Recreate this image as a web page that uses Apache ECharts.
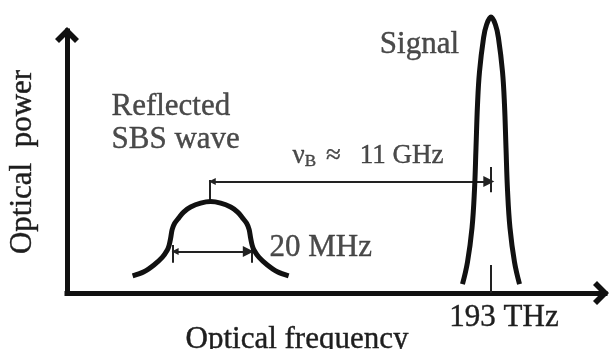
<!DOCTYPE html>
<html>
<head>
<meta charset="utf-8">
<script src="https://cdn.jsdelivr.net/npm/echarts@6/dist/echarts.min.js"></script>
<style>
html,body{margin:0;padding:0;background:#fff;}
#chart{width:611px;height:349px;}
</style>
</head>
<body>
<div id="chart"></div>
<script>
// ---- data (arbitrary schematic units: frequency 0..100, power 0..100) ----
const sbsX = [12.20, 14.30, 16.16, 17.70, 18.65, 18.99, 19.27, 19.54, 20.01, 20.75, 21.68, 22.98, 24.84, 26.70, 28.56, 30.42, 31.72, 32.65, 33.39, 33.86, 34.13, 34.41, 34.75, 35.70, 37.24, 39.10, 41.20];
const sbsY = [6.5, 8.1, 10.7, 13.6, 16.4, 18.3, 21.0, 24.2, 26.6, 28.6, 30.9, 32.8, 34.3, 34.9, 34.3, 32.8, 30.9, 28.6, 26.6, 24.2, 21.0, 18.3, 16.4, 13.6, 10.7, 8.1, 6.5];
const signalX = [73.51, 74.44, 75.28, 75.74, 76.02, 76.30, 76.67, 77.42, 77.97, 78.81, 79.65, 80.20, 80.95, 81.32, 81.60, 81.88, 82.34, 83.18, 84.11];
const signalY = [3.4, 11.8, 24.8, 39.3, 55.3, 71.8, 84.4, 97.3, 102.3, 105.3, 102.3, 97.3, 84.4, 71.8, 55.3, 39.3, 24.8, 11.8, 3.4];
const sbsPeakX = 26.6;
const signalCenter = 78.81;
const shiftArrowX = [27.0, 78.4];
const shiftArrowY = 42.6;
const sbsPeakTickY = [34.9, 43.1];
const signalMarkY = [38.5, 48.1];
const widthArrowX = [20.1, 33.7];
const widthArrowY = 15.8;
const widthTickX = [19.65, 34.33];
const widthTickY = [11.5, 18.3];
const tickLabels = ['193 THz'];
const axisNames = ['Optical frequency', 'Optical  power'];
const annotationText = ['{a|Reflected}\n{a|SBS wave}', '{a|Signal}', '{nu|ν}{sub|B}{gap|≈}{nu|11 GHz}', '{a|20 MHz}'];
const annotationX = [8.36, 65.61, 42.0, 37.73];
const annotationY = [77.3, 94.7, 52.3, 17.0];

// ---- styles ----
const FONT = 'Liberation Serif';
const INK = '#111';
const TXT = '#1e1e1e';
const chevron = 'path://M12,0 L24,12 L20,16 L12,8 L4,16 L0,12 Z';
const heavy = {textBorderColor: TXT, textBorderWidth: 0.4};

const zip = (xs, ys) => xs.map((x, i) => [x, ys[i]]);

const richStyles = {
  a: Object.assign({fontFamily: FONT, fontSize: 31, lineHeight: 33, color: TXT}, heavy),
  nu: Object.assign({fontFamily: FONT, fontSize: 27, lineHeight: 30, color: TXT}, heavy),
  gap: Object.assign({fontFamily: FONT, fontSize: 27, lineHeight: 30, color: TXT, padding: [0, 19, 0, 10]}, heavy),
  sub: Object.assign({fontFamily: FONT, fontSize: 17, lineHeight: 12, verticalAlign: 'bottom', color: TXT}, heavy)
};
const annotationAlign = [
  {align: 'left', verticalAlign: 'top'},
  {align: 'center', verticalAlign: 'middle'},
  {align: 'left', verticalAlign: 'middle'},
  {align: 'left', verticalAlign: 'middle'}
];

const chart = echarts.init(document.getElementById('chart'), null, {renderer: 'canvas'});
chart.setOption({
  animation: false,
  backgroundColor: '#fff',
  grid: {left: 67, right: 6, top: 31, bottom: 56, containLabel: false, outerBoundsMode: 'none'},
  xAxis: {
    type: 'value', min: 0, max: 100,
    splitLine: {show: false},
    axisLine: {show: true, onZero: true, symbol: ['none', chevron], symbolSize: [24, 16], symbolOffset: [0, -4],
      lineStyle: {color: INK, width: 5, cap: 'square'}},
    axisTick: {show: true, inside: true, length: 28, customValues: [signalCenter], lineStyle: {color: '#222', width: 2}},
    axisLabel: Object.assign({show: true, customValues: [signalCenter], formatter: () => tickLabels[0],
      fontFamily: FONT, fontSize: 31, color: TXT, margin: 9, padding: [0, 0, 0, 26]}, heavy),
    name: axisNames[0], nameLocation: 'middle', nameGap: 31, nameMoveOverlap: false,
    nameTextStyle: Object.assign({fontFamily: FONT, fontSize: 31, color: TXT, padding: [0, 78, 0, 0]}, heavy)
  },
  yAxis: {
    type: 'value', min: 0, max: 100,
    splitLine: {show: false},
    axisLine: {show: true, symbol: ['none', chevron], symbolSize: [24, 16], symbolOffset: [0, -4],
      lineStyle: {color: INK, width: 5, cap: 'square'}},
    axisTick: {show: false},
    axisLabel: {show: false},
    name: axisNames[1], nameLocation: 'middle', nameGap: 29, nameMoveOverlap: false,
    nameTextStyle: Object.assign({fontFamily: FONT, fontSize: 31, color: TXT}, heavy)
  },
  series: [
    {
      type: 'lines', coordinateSystem: 'cartesian2d', z: 3,
      lineStyle: {color: '#222', width: 2, opacity: 1},
      symbolSize: [7, 11],
      data: [
        {coords: [[shiftArrowX[0], shiftArrowY], [shiftArrowX[1], shiftArrowY]], symbol: ['triangle', 'triangle']},
        {coords: [[widthArrowX[0], widthArrowY], [widthArrowX[1], widthArrowY]], symbol: ['triangle', 'triangle']},
        {coords: [[sbsPeakX, sbsPeakTickY[0]], [sbsPeakX, sbsPeakTickY[1]]], symbol: ['none', 'none']},
        {coords: [[signalCenter, signalMarkY[0]], [signalCenter, signalMarkY[1]]], symbol: ['none', 'none']},
        {coords: [[widthTickX[0], widthTickY[0]], [widthTickX[0], widthTickY[1]]], symbol: ['none', 'none']},
        {coords: [[widthTickX[1], widthTickY[0]], [widthTickX[1], widthTickY[1]]], symbol: ['none', 'none']}
      ]
    },
    {
      type: 'line', name: 'Reflected SBS wave', data: zip(sbsX, sbsY), smooth: 0.3,
      showSymbol: false, clip: false, z: 4,
      lineStyle: {color: INK, width: 5}
    },
    {
      type: 'line', name: 'Signal', data: zip(signalX, signalY), smooth: 0.4,
      showSymbol: false, clip: false, z: 4,
      lineStyle: {color: INK, width: 5}
    },
    {
      type: 'scatter', clip: false, symbolSize: 1, z: 5,
      itemStyle: {color: 'rgba(0,0,0,0)'},
      label: {show: true, position: [0, 0], fontFamily: FONT, color: TXT, rich: richStyles},
      data: annotationText.map((t, i) => ({
        value: [annotationX[i], annotationY[i]],
        label: Object.assign({show: true, formatter: t}, annotationAlign[i])
      }))
    }
  ]
});
</script>
</body>
</html>
